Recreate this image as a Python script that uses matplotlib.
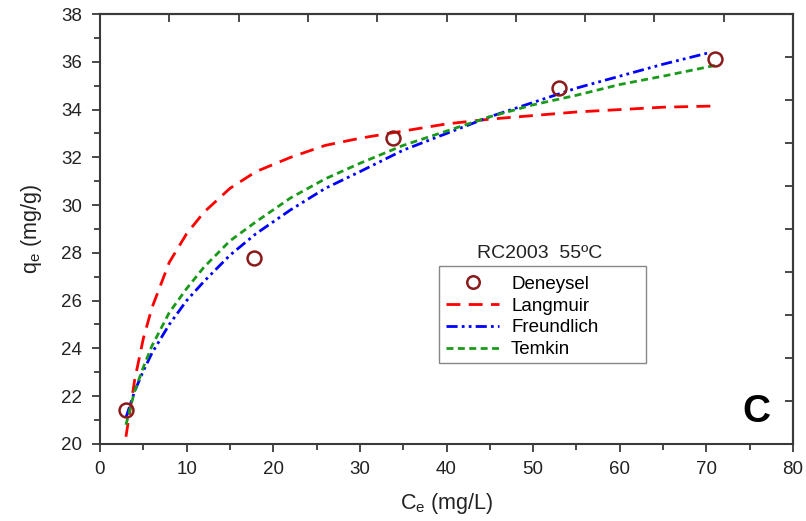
import matplotlib.pyplot as plt
from matplotlib.lines import Line2D
from matplotlib.patches import Rectangle

# === DATA ===
ce_exp = [3.0, 17.8, 33.8, 53.0, 71.0]
qe_exp = [21.4, 27.8, 32.8, 34.9, 36.1]

ce_fit = [3, 4, 5, 6, 8, 10, 12, 15, 18, 22, 26, 30, 35, 40, 45, 50, 55, 60, 65, 71]
q_langmuir = [20.3, 22.66, 24.4, 25.7, 27.6, 28.8, 29.7, 30.7, 31.4, 32.0, 32.5, 32.8,
              33.1, 33.4, 33.6, 33.75, 33.9, 34.0, 34.1, 34.15]
ce_freund = [3, 4, 5, 6, 8, 10, 12, 15, 18, 22, 26, 30, 35, 40, 45, 50, 55, 60, 65, 70.5]
q_freundlich = [21.1, 22.2, 23.05, 23.8, 25.0, 26.0, 26.8, 27.9, 28.8, 29.8, 30.7, 31.4,
                32.3, 33.0, 33.7, 34.3, 34.9, 35.4, 35.9, 36.4]
q_temkin = [20.8, 22.2, 23.2, 24.1, 25.5, 26.5, 27.4, 28.5, 29.3, 30.3, 31.1, 31.75,
            32.5, 33.1, 33.7, 34.2, 34.6, 35.05, 35.4, 35.85]

x_ticks = list(range(0, 81, 10))
y_ticks = list(range(20, 39, 2))
top_ticks = [8, 16, 24, 32, 40, 48, 56, 64, 72]
right_ticks = [21.8, 23.6, 25.4, 27.2, 29.0, 30.8, 32.6, 34.4, 36.2]

# === STYLE ===
plt.rcParams['font.family'] = ['Liberation Sans', 'DejaVu Sans']
plt.rcParams['mathtext.default'] = 'regular'
spine_col = '#3a3a3a'
text_col = '#222222'
marker_col = '#8b1a1a'
red, blue, green = '#ff0000', '#0000ff', '#1a9a1a'
dash_l = (5, 3)
dash_f = (4, 1.5, 1, 1.5, 1, 1.5)
dash_t = (2.5, 1.6)

fig = plt.figure(figsize=(8.06, 5.21), dpi=100)
ax = fig.add_axes([0.124, 0.148, 0.86, 0.825])

ax.plot(ce_fit, q_langmuir, color=red, lw=2, dashes=dash_l, zorder=3)
ax.plot(ce_freund, q_freundlich, color=blue, lw=2, dashes=dash_f, zorder=3)
ax.plot(ce_fit, q_temkin, color=green, lw=2, dashes=dash_t, zorder=3)
ax.plot(ce_exp, qe_exp, 'o', ms=10, mfc='none', mec=marker_col, mew=1.8, zorder=4)

ax.set_xlim(0, 80)
ax.set_ylim(20, 38)
ax.set_xticks(x_ticks)
ax.set_yticks(y_ticks)
ax.set_xticks(range(5, 80, 10), minor=True)
ax.set_yticks(range(21, 38, 2), minor=True)
ax.tick_params(axis='both', which='both', direction='out', colors=spine_col,
               labelcolor=text_col, labelsize=13.5, width=1.3)
ax.tick_params(which='major', length=6)
ax.tick_params(which='minor', length=4)
ax.tick_params(axis='x', which='major', pad=6)
ax.tick_params(axis='y', which='major', pad=7)
for s in ax.spines.values():
    s.set_color(spine_col)
    s.set_linewidth(1.5)

top = ax.secondary_xaxis('top')
top.set_xticks(top_ticks)
top.tick_params(direction='in', length=6, width=1.3, colors=spine_col, labeltop=False)
top.spines['top'].set_color(spine_col)
top.spines['top'].set_linewidth(1.5)
right = ax.secondary_yaxis('right')
right.set_yticks(right_ticks)
right.tick_params(direction='in', length=6, width=1.3, colors=spine_col, labelright=False)
right.spines['right'].set_color(spine_col)
right.spines['right'].set_linewidth(1.5)

ax.set_xlabel('C$_e$ (mg/L)', fontsize=15.5, color=text_col, labelpad=10)
ax.set_ylabel('q$_e$ (mg/g)', fontsize=15.5, color=text_col, labelpad=12)

# legend: frame drawn by hand (it is wider than its text), title above the box
handles = [
    Line2D([], [], ls='none', marker='o', ms=9, mfc='none', mec=marker_col, mew=1.8),
    Line2D([], [], color=red, lw=2, dashes=dash_l),
    Line2D([], [], color=blue, lw=2, dashes=dash_f),
    Line2D([], [], color=green, lw=2, dashes=dash_t),
]
labels = ['Deneysel', 'Langmuir', 'Freundlich', 'Temkin']
leg = ax.legend(handles, labels, loc='upper left', bbox_to_anchor=(0.489, 0.409),
                borderaxespad=0, fontsize=13.5, handlelength=2.8, handletextpad=0.65,
                labelspacing=0.25, frameon=False, borderpad=0.4)
ax.add_patch(Rectangle((0.489, 0.188), 0.299, 0.226, transform=ax.transAxes,
                       fill=False, edgecolor='#888888', lw=1.0, zorder=5))
ax.text(0.635, 0.444, 'RC2003  55ºC', transform=ax.transAxes, ha='center', va='center',
        fontsize=14, color=text_col)

ax.text(0.947, 0.074, 'C', transform=ax.transAxes, ha='center', va='center',
        fontsize=28, fontweight='bold', color='black')

plt.savefig('out.png', dpi=100)
plt.close()
